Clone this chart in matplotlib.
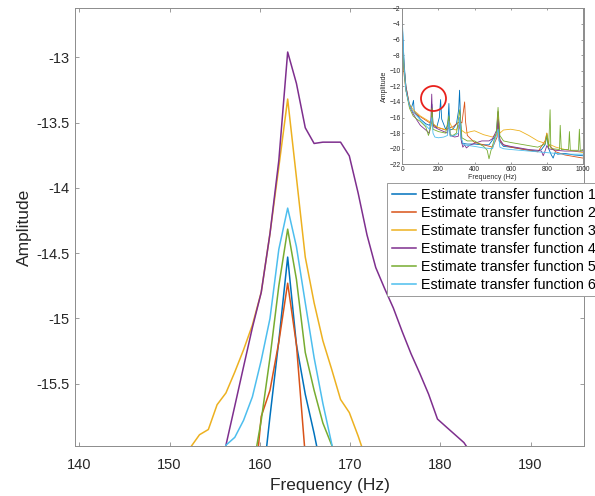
import matplotlib

matplotlib.use("Agg")
import matplotlib.pyplot as plt
import numpy as np

plt.rcParams["font.family"] = ["Liberation Sans", "DejaVu Sans"]

COLORS = ["#0072BD", "#D95319", "#EDB120", "#7E2F8E", "#77AC30", "#4DBEEE"]
LABELS = [f"Estimate transfer function {i}" for i in range(1, 7)]

# FFT bins around the 163 Hz mode (1000/1024 Hz resolution)
freq_hz = [151.37, 152.34, 153.32, 154.30, 155.27, 156.25, 157.23, 158.20,
           159.18, 160.16, 161.13, 162.11, 163.09, 164.06, 165.04, 166.02,
           166.99, 167.97, 168.95, 169.92, 170.90, 171.88, 172.85, 173.83,
           174.80, 175.78, 176.76, 177.73, 178.71, 179.69, 180.66, 181.64,
           182.62, 183.59]

nan = np.nan
amp_1 = [nan, nan, nan, nan, nan, nan, nan, nan,
         nan, -16.36, -15.75, -15.17, -14.53, -15.20, -15.58, -15.88,
         -16.21, nan, nan, nan, nan, nan, nan, nan,
         nan, nan, nan, nan, nan, nan, nan, nan, nan, nan]
amp_2 = [nan, nan, nan, nan, nan, nan, nan, nan,
         -16.47, -15.75, -15.55, -15.18, -14.73, -15.20, -16.05, nan,
         nan, nan, nan, nan, nan, nan, nan, nan,
         nan, nan, nan, nan, nan, nan, nan, nan, nan, nan]
amp_3 = [nan, -15.985, -15.89, -15.85, -15.66, -15.57, -15.41, -15.24,
         -15.05, -14.80, -14.35, -13.84, -13.32, -13.92, -14.53, -14.88,
         -15.17, -15.39, -15.62, -15.72, -15.90, -16.10, nan, nan,
         nan, nan, nan, nan, nan, nan, nan, nan, nan, nan]
amp_4 = [nan, nan, nan, nan, -16.30, -15.97, -15.67, -15.37,
         -15.07, -14.80, -14.35, -13.79, -12.96, -13.20, -13.54, -13.66,
         -13.65, -13.65, -13.65, -13.755, -14.04, -14.36, -14.61, -14.77,
         -14.92, -15.10, -15.27, -15.42, -15.58, -15.77, -15.83, -15.89,
         -15.95, -16.05]
amp_5 = [nan, nan, nan, nan, nan, nan, nan, nan,
         -16.17, -15.78, -15.30, -14.75, -14.316, -14.70, -15.26, -15.55,
         -15.80, -15.97, -16.20, nan, nan, nan, nan, nan,
         nan, nan, nan, nan, nan, nan, nan, nan, nan, nan]
amp_6 = [nan, nan, nan, nan, -16.20, -15.97, -15.91, -15.78,
         -15.60, -15.32, -15.00, -14.47, -14.155, -14.45, -14.88, -15.30,
         -15.65, -15.96, -16.25, nan, nan, nan, nan, nan,
         nan, nan, nan, nan, nan, nan, nan, nan, nan, nan]

# full-band estimates (0-1000 Hz) for the overview inset
full_f1 = [2, 10, 20, 35, 50, 58, 62, 66, 80, 100, 130, 150, 160, 164, 170, 190,
           205, 212, 218, 240, 252, 258, 263, 280, 300, 312, 317, 322, 330, 360,
           400, 440, 480, 520, 530, 536, 560, 600, 650, 700, 750, 770, 790, 800,
           810, 825, 835, 845, 860, 900, 950, 1000]
full_a1 = [-5, -9, -12, -14, -14.8, -14.2, -13.8, -15.2, -15.6, -16.2, -16.8, -17,
           -16.5, -14.3, -16.8, -17.3, -16, -13.7, -16.2, -17.5, -17, -14.2, -17.6,
           -17.5, -16.8, -15, -12.5, -16, -19.3, -19.4, -19.4, -19.5, -19.5, -18.2,
           -15.3, -19, -19.7, -19.8, -20, -20.2, -20.3, -20.1, -19.5, -18.4, -20,
           -20.8, -21.2, -20.5, -20.7, -20.6, -20.8, -20.9]
full_f2 = [2, 10, 20, 40, 60, 80, 100, 140, 160, 164, 170, 200, 240, 260, 280, 300,
           320, 330, 345, 350, 360, 400, 450, 500, 525, 530, 540, 560, 600, 650,
           700, 750, 790, 800, 810, 850, 900, 950, 1000]
full_a2 = [-8, -10.5, -12.5, -14.5, -15.3, -15.6, -15.9, -16.5, -16.8, -15.5, -17,
           -17.3, -17.6, -17.3, -17.2, -16.8, -16.5, -16.7, -14.0, -16.5, -18.3,
           -19.2, -19.5, -19.8, -18.5, -15.2, -19, -19.5, -19.8, -20, -20.2, -20.4,
           -19, -18, -19.5, -20.4, -20.8, -21, -21.2]
full_f3 = [2, 10, 20, 40, 60, 80, 100, 150, 160, 164, 170, 200, 250, 260, 280, 300,
           310, 320, 350, 380, 400, 450, 500, 525, 530, 540, 560, 600, 650, 700,
           750, 790, 800, 810, 850, 900, 950, 1000]
full_a3 = [-6.5, -9.5, -12, -14.3, -15, -15.4, -15.8, -16.5, -16.6, -14.8, -16.8,
           -17.3, -17.6, -16.5, -17.5, -17.6, -17, -17.5, -18, -17.8, -17.7, -18.2,
           -18.5, -18, -15.8, -18, -17.6, -17.5, -17.7, -18.3, -19, -19.3, -18,
           -19.4, -19.8, -20.1, -20.3, -20.5]
full_f4 = [2, 10, 20, 40, 60, 80, 100, 130, 150, 158, 163, 168, 175, 200, 230, 250,
           258, 265, 290, 310, 318, 325, 335, 345, 355, 370, 400, 440, 480, 500,
           525, 530, 540, 560, 600, 650, 700, 750, 770, 780, 790, 800, 810, 850,
           900, 950, 1000]
full_a4 = [-6, -9.5, -12, -14.5, -15.5, -16.3, -17, -17.6, -18, -16.5, -13, -16.8,
           -17.2, -17.5, -17.8, -18, -16.4, -18.3, -18.5, -18.4, -16, -18.8, -19.8,
           -19.5, -19.9, -19.6, -19.3, -19, -19, -18.7, -17.5, -16.2, -18.8, -19.5,
           -19.7, -19.9, -20.1, -20.2, -20.3, -20.9, -20.3, -19.6, -20, -20.2,
           -20.3, -20.3, -20.3]
full_f5 = [2, 10, 20, 40, 60, 80, 100, 130, 145, 160, 164, 170, 200, 240, 258, 265,
           280, 300, 318, 330, 360, 400, 450, 470, 480, 490, 520, 530, 540, 560,
           600, 650, 700, 750, 790, 800, 810, 818, 822, 830, 870, 874, 880, 920,
           925, 930, 975, 980, 985, 1000]
full_a5 = [-7, -10, -12.5, -14.8, -15.8, -16.2, -16.5, -17.2, -18.3, -17, -14.8,
           -17.5, -17.8, -18, -15.8, -18.2, -18.3, -18, -15, -18.6, -19, -19, -19.7,
           -20.2, -21.3, -20.3, -18, -14.7, -18.3, -19, -19.2, -19.4, -19.6, -19.8,
           -19.4, -18.2, -19.9, -15, -19.9, -20, -20.1, -17, -20.1, -20.1, -17.8,
           -20.2, -20.2, -17.5, -20.3, -20.2]
full_f6 = [1, 5, 10, 20, 40, 60, 80, 100, 130, 150, 164, 170, 180, 200, 230, 250,
           258, 265, 290, 310, 318, 325, 340, 400, 450, 500, 530, 540, 560, 600,
           650, 700, 750, 800, 850, 900, 950, 1000]
full_a6 = [-4, -6, -9.5, -12.5, -14.5, -15.3, -15.8, -16.3, -17, -17.5, -16, -18,
           -18.5, -18.6, -18.5, -18.3, -16.5, -18.4, -18.3, -18, -16, -18.6, -19.5,
           -19.7, -19.9, -20, -17.5, -19.8, -20, -20.1, -20.2, -20.3, -20.4, -20.5,
           -20.6, -20.7, -20.7, -20.7]

# where the zoomed-in window sits on the overview
mode_f, mode_a = 171, -13.5

SPINE = "#8c8c8c"
TEXT = "#262626"


def style_axes(ax, size, pad):
    for s in ax.spines.values():
        s.set_color(SPINE)
        s.set_linewidth(0.7)
    ax.tick_params(direction="in", top=True, right=True, colors=SPINE,
                   labelcolor=TEXT, labelsize=size, length=3, width=0.6, pad=pad)


fig = plt.figure(figsize=(5.95, 4.96), dpi=100)
ax = fig.add_axes([0.1266, 0.1014, 0.8545, 0.8819])

zoom_series = [amp_1, amp_2, amp_3, amp_4, amp_5, amp_6]
for amp, color, label in zip(zoom_series, COLORS, LABELS):
    ax.plot(freq_hz, amp, color=color, lw=1.1, label=label)

ax.set_xlim(139.56, 195.9)
ax.set_ylim(-15.974, -12.625)
ax.set_xticks([140, 150, 160, 170, 180, 190])
ax.set_yticks([-13, -13.5, -14, -14.5, -15, -15.5])
ax.set_yticklabels(["-13", "-13.5", "-14", "-14.5", "-15", "-15.5"])
style_axes(ax, 10.5, 4)
ax.tick_params(axis="x", pad=9)
ax.set_xlabel("Frequency (Hz)", fontsize=12.5, color=TEXT, labelpad=4)
ax.set_ylabel("Amplitude", fontsize=12.5, color=TEXT, labelpad=3)

leg = ax.legend(loc="upper left", bbox_to_anchor=(0.651, 0.6304),
                bbox_transform=fig.transFigure, borderaxespad=0,
                fontsize=10.3, handlelength=1.68, handletextpad=0.35,
                labelspacing=0.28, borderpad=0.3, fancybox=False,
                framealpha=1, edgecolor="#9a9a9a")
leg.get_frame().set_linewidth(0.7)

# overview of the whole band
inset = fig.add_axes([0.6761, 0.6687, 0.3037, 0.3145])
full_f = [full_f1, full_f2, full_f3, full_f4, full_f5, full_f6]
full_a = [full_a1, full_a2, full_a3, full_a4, full_a5, full_a6]
for f, a, color in zip(full_f, full_a, COLORS):
    inset.plot(f, a, color=color, lw=0.6)
inset.plot([mode_f], [mode_a], "o", ms=18, mfc="none", mec="#e8211c", mew=1.3)
inset.set_xlim(0, 1000)
inset.set_ylim(-22, -2)
inset.set_xticks(range(0, 1001, 200))
inset.set_yticks(range(-22, -1, 2))
style_axes(inset, 4.8, 1.2)
inset.tick_params(length=1.5)
inset.set_xlabel("Frequency (Hz)", fontsize=5, color=TEXT, labelpad=1)
inset.set_ylabel("Amplitude", fontsize=5, color=TEXT, labelpad=1)

fig.savefig("out.png", dpi=100)
